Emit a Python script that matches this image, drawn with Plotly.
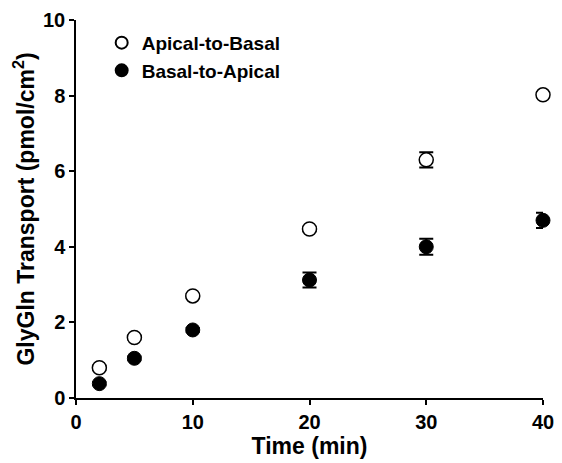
import plotly.graph_objects as go

time_min = [2, 5, 10, 20, 30, 40]
apical_to_basal = [0.80, 1.60, 2.70, 4.47, 6.30, 8.02]
apical_to_basal_err = [0.05, 0.05, 0.05, 0.06, 0.20, 0.06]
basal_to_apical = [0.38, 1.05, 1.80, 3.12, 4.00, 4.70]
basal_to_apical_err = [0.04, 0.05, 0.05, 0.20, 0.21, 0.20]

x_ticks = [0, 10, 20, 30, 40]
y_ticks = [0, 2, 4, 6, 8, 10]

font_family = "Liberation Sans, Arial, sans-serif"

fig = go.Figure()
fig.add_trace(go.Scatter(
    x=time_min, y=apical_to_basal, mode="markers", name="<b>Apical-to-Basal</b>",
    marker=dict(symbol="circle", size=14, color="white", line=dict(color="black", width=1.5)),
    error_y=dict(type="data", array=apical_to_basal_err, visible=True, color="black", thickness=2, width=7),
    cliponaxis=False,
))
fig.add_trace(go.Scatter(
    x=time_min, y=basal_to_apical, mode="markers", name="<b>Basal-to-Apical</b>",
    marker=dict(symbol="circle", size=14, color="black", line=dict(color="black", width=1)),
    error_y=dict(type="data", array=basal_to_apical_err, visible=True, color="black", thickness=2, width=7),
    cliponaxis=False,
))

fig.update_layout(
    width=554, height=455,
    margin=dict(l=68, r=19, t=12, b=65, autoexpand=False),
    plot_bgcolor="white", paper_bgcolor="white",
    font=dict(family=font_family, color="black", size=20),
    showlegend=True,
    legend=dict(x=0.055, y=0.99, xanchor="left", yanchor="top", bgcolor="rgba(0,0,0,0)",
                font=dict(size=19, family=font_family), itemsizing="constant",
                tracegroupgap=0, itemwidth=30),
    xaxis=dict(range=[0, 40], tickvals=x_ticks, ticktext=[f"<b>{t}</b>" for t in x_ticks],
               showline=True, linecolor="black", linewidth=1.5, ticks="outside", ticklen=5,
               tickwidth=1.5, tickcolor="black", showgrid=False, zeroline=False,
               title=dict(text="<b>Time (min)</b>", font=dict(size=23), standoff=4),
               tickfont=dict(size=20)),
    yaxis=dict(range=[0, 10], tickvals=y_ticks, ticktext=[f"<b>{t}</b>" for t in y_ticks],
               showline=True, linecolor="black", linewidth=1.5, ticks="outside", ticklen=5,
               tickwidth=1.5, tickcolor="black", showgrid=False, zeroline=False,
               title=dict(text="<b>GlyGln Transport (pmol/cm<sup>2</sup>)</b>", font=dict(size=23), standoff=2),
               tickfont=dict(size=20)),
)

fig.write_html("out.html")
